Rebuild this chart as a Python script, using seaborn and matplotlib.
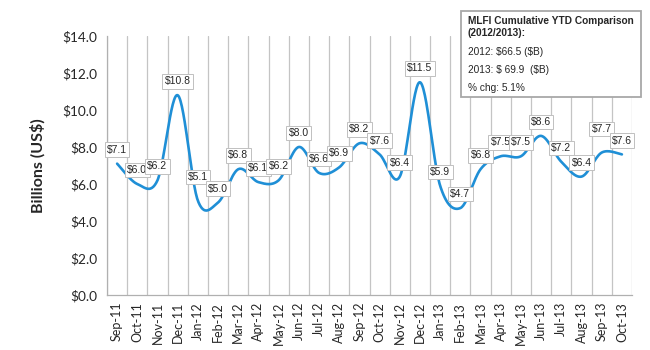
import numpy as np
import pandas as pd
import matplotlib.pyplot as plt
from matplotlib.patches import Rectangle
import seaborn as sns

# --- Data ---
MONTHS = ['Sep-11', 'Oct-11', 'Nov-11', 'Dec-11', 'Jan-12', 'Feb-12', 'Mar-12',
          'Apr-12', 'May-12', 'Jun-12', 'Jul-12', 'Aug-12', 'Sep-12', 'Oct-12',
          'Nov-12', 'Dec-12', 'Jan-13', 'Feb-13', 'Mar-13', 'Apr-13', 'May-13',
          'Jun-13', 'Jul-13', 'Aug-13', 'Sep-13', 'Oct-13']
VALUES = [7.1, 6.0, 6.2, 10.8, 5.1, 5.0, 6.8, 6.1, 6.2, 8.0, 6.6, 6.9, 8.2,
          7.6, 6.4, 11.5, 5.9, 4.7, 6.8, 7.5, 7.5, 8.6, 7.2, 6.4, 7.7, 7.6]
Y_TICKS = [0, 2, 4, 6, 8, 10, 12, 14]

BOX_TITLE = 'MLFI Cumulative YTD Comparison\n(2012/2013):'
BOX_LINES = ['2012: $66.5 ($B)', '2013: $ 69.9  ($B)', '% chg: 5.1%']

LINE_COLOR = '#1f8fd6'
GRID_COLOR = '#c4c4c4'
# labels that Excel nudged further up to avoid the neighbours
LABEL_RAISE = {'Jan-12': 7, 'Sep-13': 7}


def smooth_curve(xs, ys, steps=30):
    """Excel-style smoothed line (Catmull-Rom Bezier through each point)."""
    p = np.column_stack([xs, ys]).astype(float)
    p_ext = np.vstack([p[0], p, p[-1]])
    t = np.linspace(0, 1, steps)[:, None]
    out = []
    for i in range(len(p) - 1):
        p0, p1, p2, p3 = p_ext[i], p_ext[i + 1], p_ext[i + 2], p_ext[i + 3]
        b1 = p1 + (p2 - p0) / 6
        b2 = p2 - (p3 - p1) / 6
        seg = ((1 - t) ** 3) * p1 + 3 * ((1 - t) ** 2) * t * b1 \
            + 3 * (1 - t) * t ** 2 * b2 + t ** 3 * p2
        out.append(seg if i == 0 else seg[1:])
    return np.vstack(out)


sns.set_style('white')
plt.rcParams['font.family'] = ['Lato', 'DejaVu Sans']
plt.rcParams['text.parse_math'] = False  # dollar signs are literal text

df = pd.DataFrame({'month': MONTHS, 'value': VALUES})
df['pos'] = np.arange(len(df))
curve = smooth_curve(df['pos'], df['value'])
curve_df = pd.DataFrame({'x': curve[:, 0], 'y': curve[:, 1]})

fig = plt.figure(figsize=(6.5, 3.5), dpi=100)
ax = fig.add_axes([107 / 650, 1 - 295 / 350, (632 - 107) / 650, (295 - 36) / 350])

sns.lineplot(data=curve_df, x='x', y='y', sort=False, ax=ax,
             color=LINE_COLOR, linewidth=1.9, zorder=3)

ax.set_xlim(-0.5, len(df) - 0.5)
ax.set_ylim(0, 14)

# category boundaries as vertical grid lines
ax.set_xticks(df['pos'])
ax.set_xticklabels(df['month'], rotation=90, fontsize=9)
ax.set_xticks(np.arange(-0.5, len(df)), minor=True)
ax.tick_params(axis='x', which='major', length=0, pad=5)
ax.tick_params(axis='x', which='minor', length=4, color=GRID_COLOR, width=0.9)
ax.grid(True, which='minor', axis='x', color=GRID_COLOR, linewidth=0.9)
ax.grid(False, which='major')

ax.set_yticks(Y_TICKS)
ax.set_yticklabels([f'${v:.1f}' for v in Y_TICKS], fontsize=9.8)
ax.tick_params(axis='y', length=4, color=GRID_COLOR, width=0.9, pad=3)

for side in ['top', 'right']:
    ax.spines[side].set_visible(False)
for side in ['left', 'bottom']:
    ax.spines[side].set_color('#b0b0b0')
    ax.spines[side].set_linewidth(0.9)

ax.set_xlabel('')
ax.set_ylabel('Billions (US$)', fontsize=11.5, fontweight='bold', labelpad=12)

# data labels
for m, x, v in zip(df['month'], df['pos'], df['value']):
    dy = 10 + LABEL_RAISE.get(m, 0)
    ax.annotate(f'${v:.1f}', (x, v), xytext=(0, dy), textcoords='offset points',
                ha='center', va='center', fontsize=7.5, family='Liberation Sans',
                zorder=5,
                bbox=dict(boxstyle='square,pad=0.22', fc='white', ec='#c0c0c0', lw=0.7))

# comparison box
fig.patches.append(Rectangle((461 / 650, 1 - 97 / 350), 180 / 650, 86 / 350,
                             transform=fig.transFigure, fc='white', ec='#a8a8a8',
                             lw=1.3, zorder=10))
fig.text(468 / 650, 1 - 16 / 350, BOX_TITLE, fontsize=7.3, fontweight='bold',
         family='Liberation Sans', va='top', linespacing=1.2, zorder=11)
for i, line in enumerate(BOX_LINES):
    fig.text(468 / 650, 1 - (52 + 18 * i) / 350, line, fontsize=7.3,
             family='Liberation Sans', va='center', zorder=11)

fig.savefig('out.png', dpi=100)
